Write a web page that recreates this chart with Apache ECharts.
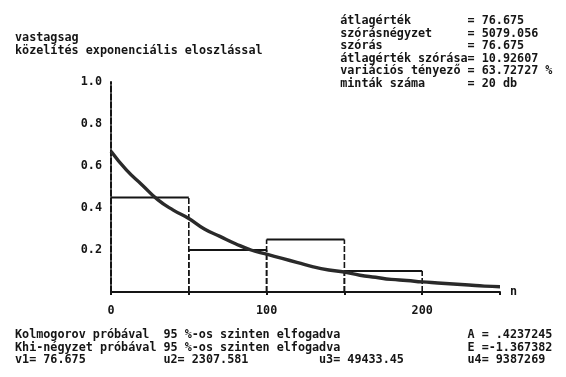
<!DOCTYPE html>
<html><head><meta charset="utf-8">
<script src="https://cdn.jsdelivr.net/npm/echarts@6/dist/echarts.min.js"></script>
<style>html,body{margin:0;padding:0;background:#fff}#c{width:566px;height:377px}</style>
</head><body><div id="c"></div>
<script>
// ---- data ----
const binEdges = [0, 50, 100, 150, 200];
const binValues = [0.45, 0.20, 0.25, 0.10];
const curveX = [0,10,20,30,40,50,60,70,80,90,100,110,120,130,140,150,160,170,180,190,200,210,220,230,240,250];
const curveY = [0.67,0.58,0.51,0.44,0.39,0.35,0.30,0.265,0.23,0.20,0.18,0.16,0.14,0.12,0.105,0.095,0.08,0.07,0.06,0.055,0.048,0.043,0.038,0.033,0.028,0.025];
const yTickLabels = ['', '0.2', '0.4', '0.6', '0.8', '1.0'];
const xTickLabels = {0: '0', 100: '100', 200: '200'};
const titleLines = ['vastagsag', 'közelítés exponenciális eloszlással'];
const statLabels = ['átlagérték', 'szórásnégyzet', 'szórás', 'átlagérték szórása', 'variációs tényező', 'minták száma'];
const statValues = ['76.675', '5079.056', '76.675', '10.92607', '63.72727 %', '20 db'];
const testLabels = ['Kolmogorov próbával', 'Khi-négyzet próbával'];
const testResult = '95 %-os szinten elfogadva';
const shapeStats = ['A = .4237245', 'E =-1.367382'];
const moments = ['v1= 76.675', 'u2= 2307.581', 'u3= 49433.45', 'u4= 9387269'];

const FONT = '"DejaVu Sans Mono", "Liberation Mono", monospace';
const FS = 11.75;
const CW = 7.07;      // character cell width
const X0 = 15;        // left text margin
const INK = '#151515';

function col(c) { return X0 + c * CW; }
function txt(text, x, y) {
  return { type: 'text', x: x, y: y,
    style: { text: text, fill: INK, fontFamily: FONT, fontWeight: 'bold', fontSize: FS, verticalAlign: 'middle' } };
}
const graphics = [];
graphics.push(txt(titleLines[0], col(0), 38));
graphics.push(txt(titleLines[1], col(0), 51));
statLabels.forEach((l, i) => {
  const s = l.padEnd(18, ' ') + '= ' + statValues[i];
  graphics.push(txt(s, col(46), 21 + i * 12.57));
});
const rowB = [335, 347.5, 360];
graphics.push(txt(testLabels[0], col(0), rowB[0]));
graphics.push(txt(testLabels[1], col(0), rowB[1]));
graphics.push(txt(testResult, col(21), rowB[0]));
graphics.push(txt(testResult, col(21), rowB[1]));
graphics.push(txt(shapeStats[0], col(64), rowB[0]));
graphics.push(txt(shapeStats[1], col(64), rowB[1]));
graphics.push(txt(moments[0], col(0), rowB[2]));
graphics.push(txt(moments[1], col(21), rowB[2]));
graphics.push(txt(moments[2], col(43), rowB[2]));
graphics.push(txt(moments[3], col(64), rowB[2]));

const bins = binValues.map((v, i) => [binEdges[i], binEdges[i + 1], v]);

const chart = echarts.init(document.getElementById('c'), null, { renderer: 'canvas' });
chart.setOption({
  backgroundColor: '#ffffff',
  animation: false,
  grid: { left: 111, right: 66, top: 82, bottom: 85 },
  xAxis: {
    type: 'value', min: 0, max: 250, interval: 50,
    name: 'n', nameLocation: 'end', nameGap: 10,
    nameTextStyle: { color: INK, fontFamily: FONT, fontWeight: 'bold', fontSize: FS, padding: [12, 0, 0, 0] },
    axisLine: { lineStyle: { color: INK, width: 2 } },
    axisTick: { show: true, length: 3, inside: false, lineStyle: { color: INK, width: 2 } },
    axisLabel: { margin: 13, color: INK, fontFamily: FONT, fontWeight: 'bold', fontSize: FS,
      formatter: v => xTickLabels[v] || '' },
    splitLine: { show: false }
  },
  yAxis: {
    type: 'value', min: 0, max: 1, interval: 0.2,
    axisLine: { show: true, lineStyle: { color: INK, width: 2, type: [6, 2] } },
    axisTick: { show: false },
    axisLabel: { margin: 9, color: INK, fontFamily: FONT, fontWeight: 'bold', fontSize: FS,
      formatter: (v) => yTickLabels[Math.round(v / 0.2)] },
    splitLine: { show: false }
  },
  series: [
    {
      type: 'custom',
      data: bins,
      renderItem: function (params, api) {
        const x0 = api.value(0), x1 = api.value(1), h = api.value(2);
        const p0 = api.coord([x0, 0]);
        const p1 = api.coord([x1, h]);
        const pTopL = api.coord([x0, h]);
        return { type: 'group', children: [
          { type: 'line', shape: { x1: pTopL[0], y1: pTopL[1], x2: p1[0], y2: p1[1] },
            style: { stroke: INK, lineWidth: 1.8 } },
          { type: 'line', shape: { x1: p0[0], y1: p0[1], x2: pTopL[0], y2: pTopL[1] },
            style: { stroke: INK, lineWidth: 1.6, lineDash: [6, 2] } },
          { type: 'line', shape: { x1: p1[0], y1: p0[1], x2: p1[0], y2: p1[1] },
            style: { stroke: INK, lineWidth: 1.6, lineDash: [6, 2] } }
        ] };
      },
      z: 2
    },
    {
      type: 'line',
      data: curveX.map((x, i) => [x, curveY[i]]),
      smooth: true,
      showSymbol: false,
      lineStyle: { color: '#2a2a2a', width: 3.4 },
      z: 3
    }
  ],
  graphic: graphics
});
</script></body></html>
